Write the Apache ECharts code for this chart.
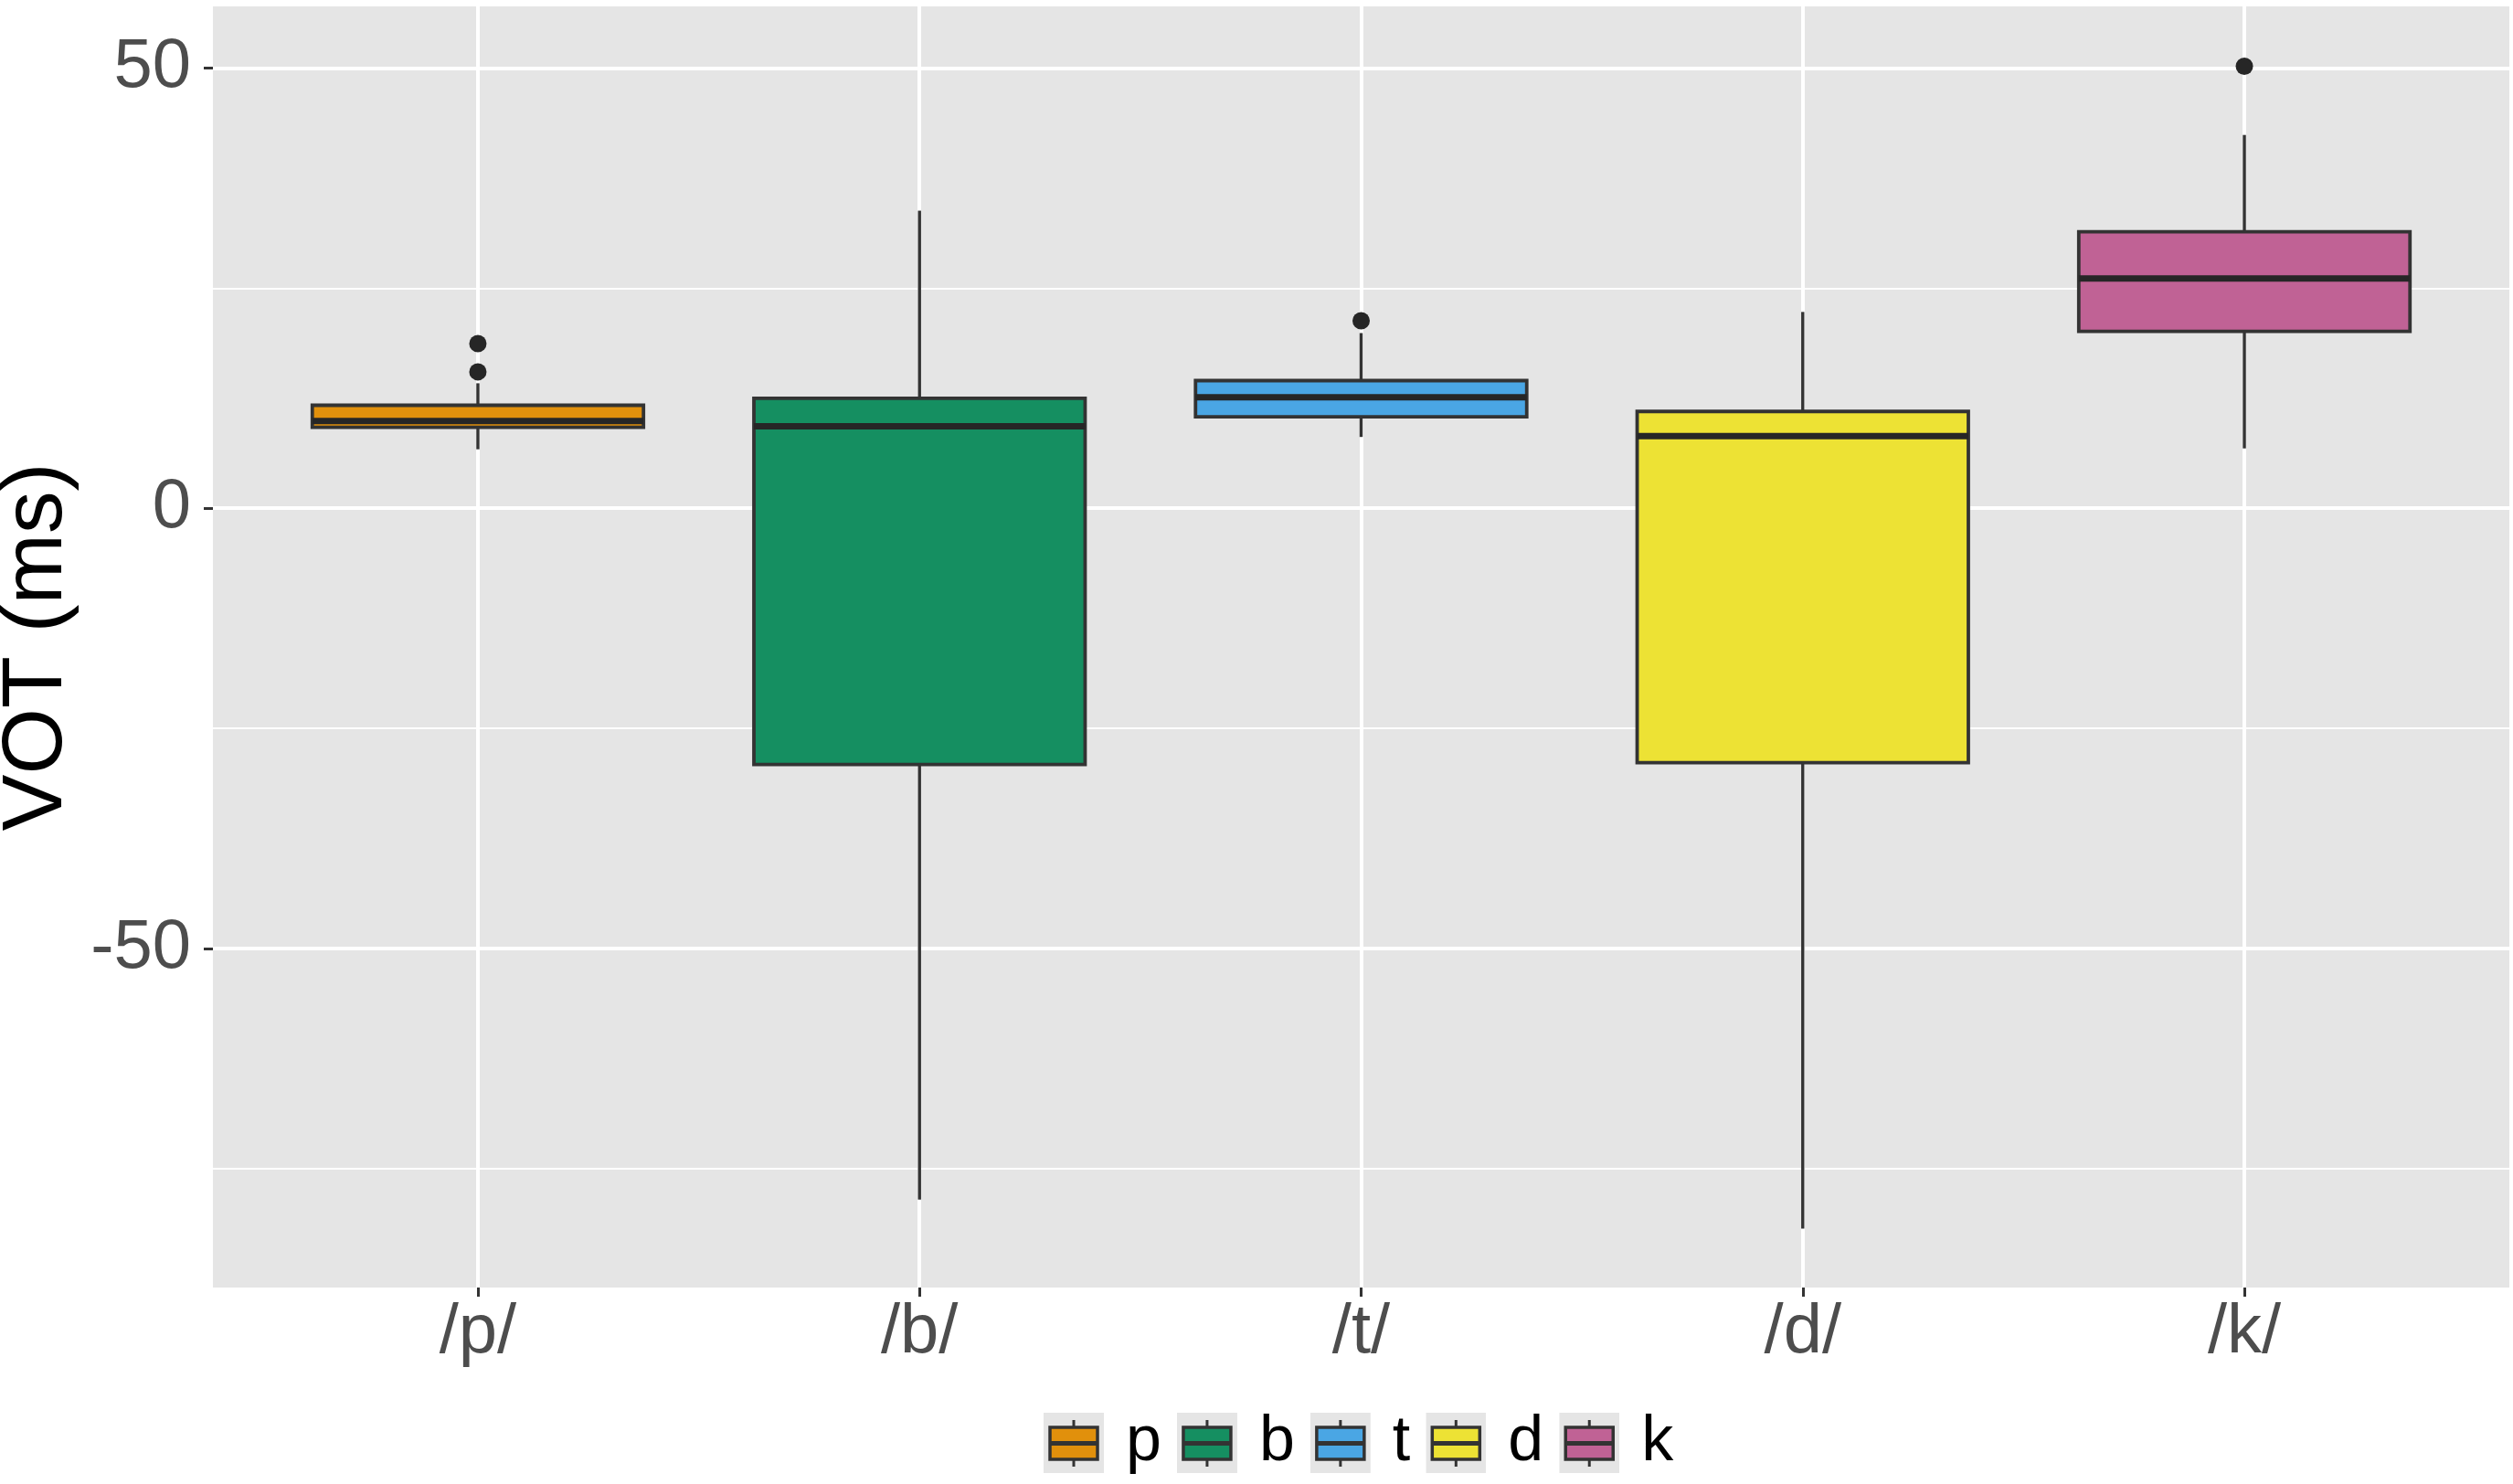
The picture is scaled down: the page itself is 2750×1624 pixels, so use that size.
<!DOCTYPE html>
<html>
<head>
<meta charset="UTF-8">
<title>VOT boxplot</title>
<script src="https://cdn.jsdelivr.net/npm/echarts@6/dist/echarts.min.js"></script>
<style>
  html, body { margin: 0; padding: 0; background: #fff; }
  #chart { width: 2750px; height: 1624px; }
</style>
</head>
<body>
<div id="chart"></div>
<script>
// categories
var phonemes = ['p', 'b', 't', 'd', 'k'];
var tickLabels = ['/p/', '/b/', '/t/', '/d/', '/k/'];

// box statistics (ms)
var whiskerLow  = [6.7, -78.5, 8.1, -81.8, 6.8];
var lowerQuart  = [9.2, -29.1, 10.4, -28.9, 20.1];
var medians     = [9.9, 9.3, 12.6, 8.2, 26.1];
var upperQuart  = [11.7, 12.5, 14.5, 11.0, 31.4];
var whiskerHigh = [14.2, 33.8, 19.9, 22.3, 42.4];

// outliers: [category index, value]
var outliers = [[0, 15.5], [0, 18.7], [2, 21.3], [4, 50.2]];

// y axis ticks
var yMajorTicks = [-50, 0, 50];
var yMinorTicks = [-75, -25, 25];

var fills = ['#E1900C', '#158F61', '#4AA6E4', '#EDE234', '#C06295'];
var dark = '#333333';
var font = '"Liberation Sans", Arial, Helvetica, sans-serif';

function legendIcon(color) {
  var svg = '<svg xmlns="http://www.w3.org/2000/svg" width="66" height="66" viewBox="0 0 66 66">' +
    '<rect width="66" height="66" fill="#e5e5e5"/>' +
    '<line x1="33" y1="8" x2="33" y2="59" stroke="' + dark + '" stroke-width="3"/>' +
    '<rect x="7" y="16" width="52" height="35" fill="' + color + '" stroke="' + dark + '" stroke-width="3.5"/>' +
    '<line x1="7" y1="33.5" x2="59" y2="33.5" stroke="' + dark + '" stroke-width="5"/>' +
    '</svg>';
  return 'image://data:image/svg+xml;charset=utf-8,' + encodeURIComponent(svg);
}

function renderBox(params, api) {
  var x = api.value(0);
  var half = api.size([0.75, 0])[0] / 2;
  var pLow = api.coord([x, api.value(1)]);
  var pQ1 = api.coord([x, api.value(2)]);
  var pMed = api.coord([x, api.value(3)]);
  var pQ3 = api.coord([x, api.value(4)]);
  var pHigh = api.coord([x, api.value(5)]);
  var lineStyle = { stroke: dark, lineWidth: 3.4 };
  return {
    type: 'group',
    children: [
      { type: 'line', shape: { x1: pQ3[0], y1: pQ3[1], x2: pHigh[0], y2: pHigh[1] }, style: lineStyle },
      { type: 'line', shape: { x1: pQ1[0], y1: pQ1[1], x2: pLow[0], y2: pLow[1] }, style: lineStyle },
      {
        type: 'rect',
        shape: { x: pQ3[0] - half, y: pQ3[1], width: half * 2, height: pQ1[1] - pQ3[1] },
        style: { fill: api.visual('color'), stroke: dark, lineWidth: 3.8 }
      },
      {
        type: 'line',
        shape: { x1: pMed[0] - half, y1: pMed[1], x2: pMed[0] + half, y2: pMed[1] },
        style: { stroke: '#262626', lineWidth: 7 }
      }
    ]
  };
}

var series = phonemes.map(function (name, i) {
  return {
    name: name,
    type: 'custom',
    renderItem: renderBox,
    itemStyle: { color: fills[i] },
    encode: { x: 0, y: [1, 2, 3, 4, 5] },
    data: [[i, whiskerLow[i], lowerQuart[i], medians[i], upperQuart[i], whiskerHigh[i]]],
    z: 3
  };
});

series.push({
  name: 'outliers',
  type: 'scatter',
  data: outliers,
  symbolSize: 19,
  itemStyle: { color: '#262626', opacity: 1 },
  z: 4
});

var chart = echarts.init(document.getElementById('chart'));
chart.setOption({
  backgroundColor: '#ffffff',
  animation: false,
  textStyle: { fontFamily: font },
  grid: {
    left: 233, right: 4, top: 7, bottom: 215,
    outerBoundsMode: 'none',
    containLabel: false,
    show: true, backgroundColor: '#e5e5e5', borderWidth: 0
  },
  legend: {
    data: phonemes.map(function (name, i) { return { name: name, icon: legendIcon(fills[i]) }; }),
    left: 1142,
    top: 1544,
    padding: 0,
    itemWidth: 66,
    itemHeight: 66,
    itemGap: 17,
    selectedMode: false,
    textStyle: { fontSize: 70, color: '#000000', fontFamily: font, padding: [0, 0, 0, 19] }
  },
  xAxis: {
    type: 'value',
    min: -0.6,
    max: 4.6,
    axisLine: { show: false, onZero: false },
    axisTick: {
      show: true, length: 10, customValues: [0, 1, 2, 3, 4],
      lineStyle: { color: dark, width: 3 }
    },
    axisLabel: {
      customValues: [0, 1, 2, 3, 4],
      formatter: function (v) { return tickLabels[Math.round(v)]; },
      fontSize: 76, color: '#4d4d4d', margin: 12, fontFamily: font
    },
    splitLine: { show: true, lineStyle: { color: '#ffffff', width: 4 } }
  },
  yAxis: [{
    type: 'value',
    min: -88.5,
    max: 57,
    name: 'VOT (ms)',
    nameLocation: 'middle',
    nameGap: 141,
    nameTextStyle: { fontSize: 93, color: '#000000', fontFamily: font },
    axisLine: { show: false, onZero: false },
    axisTick: {
      show: true, length: 10, customValues: yMajorTicks,
      lineStyle: { color: dark, width: 3 }
    },
    axisLabel: {
      customValues: yMajorTicks,
      fontSize: 76, color: '#4d4d4d', margin: 24, fontFamily: font
    },
    splitLine: { show: true, lineStyle: { color: '#ffffff', width: 4 } }
  }, {
    type: 'value',
    min: -88.5,
    max: 57,
    position: 'left',
    axisLine: { show: false, onZero: false },
    axisTick: { show: false, customValues: yMinorTicks },
    axisLabel: { show: false, customValues: yMinorTicks },
    splitLine: { show: true, lineStyle: { color: '#ffffff', width: 2 } }
  }],
  series: series
});
</script>
</body>
</html>
